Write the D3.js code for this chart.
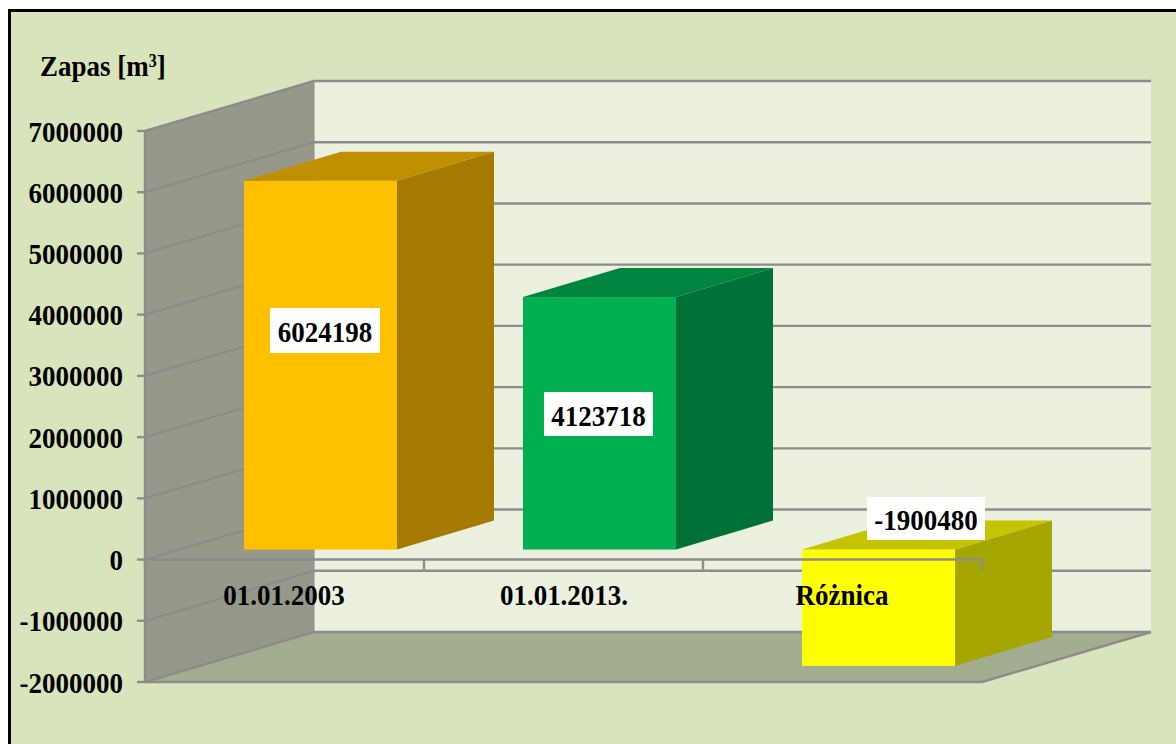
<!DOCTYPE html>
<html><head><meta charset="utf-8"><script src="https://cdn.jsdelivr.net/npm/d3@7"></script>
<style>html,body{margin:0;padding:0;background:#fff;overflow:hidden}svg{display:block}</style></head><body><svg id="c" width="1176" height="744"></svg>
<script>
const categories = ["01.01.2003", "01.01.2013.", "Różnica"];
const values = [6024198, 4123718, -1900480];
const valueLabels = ["6024198", "4123718", "-1900480"];
const frontColors = ["#ffc000", "#00b050", "#ffff00"];
const topColors = ["#c09000", "#008540", "#c4c400"];
const sideColors = ["#a47a00", "#007237", "#a6a600"];
const ticks = [7000000,6000000,5000000,4000000,3000000,2000000,1000000,0,-1000000,-2000000];

const svg = d3.select("#c");
const serif = "'Liberation Serif','Times New Roman',serif";
const y = d3.scaleLinear().domain([-2000000,7000000]).range([682,131]);
const x = d3.scaleBand().domain(categories).range([145,982]).paddingInner(0.4516).paddingOuter(0.2258);
const wall = {dx:169, dy:-50}, bar = {dx:36, dy:-10}, depth = {dx:97, dy:-29};
const grey = "#8c8c8c";
const path = pts => d3.line()(pts)+"Z";
const label = (px,py,s,anchor) => svg.append("text")
  .attr("transform",`translate(${px},${py}) scale(1,1.12)`)
  .attr("text-anchor",anchor).attr("font-family",serif).attr("font-weight","bold").attr("font-size",27).attr("fill","#000").text(s);

svg.append("rect").attr("x",9.5).attr("y",10.5).attr("width",1180).attr("height",750).attr("fill","#d8e4bc").attr("stroke","#000").attr("stroke-width",3);
const x0=x.range()[0], x1=x.range()[1], yb=y(-2000000), yt=y(7000000);
svg.append("path").attr("d",path([[x0,yb],[x0,yt],[x0+wall.dx,yt+wall.dy],[x0+wall.dx,yb+wall.dy]])).attr("fill","#96998a");
svg.append("rect").attr("x",x0+wall.dx).attr("y",yt+wall.dy).attr("width",x1-x0).attr("height",yb-yt).attr("fill","#ebf1de");
svg.append("path").attr("d",path([[x0,yb],[x1,yb],[x1+wall.dx,yb+wall.dy],[x0+wall.dx,yb+wall.dy]])).attr("fill","#a3ad8f");

const line=(a,b,w=2.4)=>svg.append("line").attr("x1",a[0]).attr("y1",a[1]).attr("x2",b[0]).attr("y2",b[1]).attr("stroke",grey).attr("stroke-width",w);
ticks.forEach(t=>{const v=y(t);
  line([x0,v],[x0+wall.dx,v+wall.dy]);
  line([x0+wall.dx,v+wall.dy],[x1+wall.dx,v+wall.dy]);
  line([x0-8,v],[x0,v]);
  label(123,v+10.5,t,"end");
});
line([x0,yb],[x1,yb]); line([x1,yb],[x1+wall.dx,yb+wall.dy]); line([x0,yb],[x0,yt]);line([x0+wall.dx,yb+wall.dy],[x0+wall.dx,yt+wall.dy],1);

values.forEach((val,i)=>{
  const l=x(categories[i])+bar.dx, r=l+x.bandwidth();
  const a=Math.min(y(val),y(0))+bar.dy, b=Math.max(y(val),y(0))+bar.dy;
  svg.append("rect").attr("x",l).attr("y",a).attr("width",r-l).attr("height",b-a).attr("fill",frontColors[i]);
  svg.append("path").attr("d",path([[l,a],[r,a],[r+depth.dx,a+depth.dy],[l+depth.dx,a+depth.dy]])).attr("fill",topColors[i]);
  svg.append("path").attr("d",path([[r,a],[r+depth.dx,a+depth.dy],[r+depth.dx,b+depth.dy],[r,b]])).attr("fill",sideColors[i]);
});

line([x0,y(0)],[x1,y(0)]);
categories.forEach((c,i)=>{const t=x0+(i+1)*x.step(); line([t,y(0)],[t,y(0)+10]);});
line([x0,y(0)],[x0,y(0)+8]);

const catX=[284,564,842];
categories.forEach((c,i)=>label(catX[i],605,c,"middle"));

const labelBox=[[270,308,110,45],[544,392,109,44],[867,497,118,43]];
valueLabels.forEach((s,i)=>{
  const [bx,by,bw,bh]=labelBox[i];
  svg.append("rect").attr("x",bx).attr("y",by).attr("width",bw).attr("height",bh).attr("fill","#fff");
  label(bx+bw/2,by+bh/2+11.5,s,"middle");
});
const z=label(40,76,"","start");
z.append("tspan").text("Zapas [m");
z.append("tspan").attr("dy",-8).attr("font-size",16).text("3");
z.append("tspan").attr("dy",8).text("]");
</script></body></html>
